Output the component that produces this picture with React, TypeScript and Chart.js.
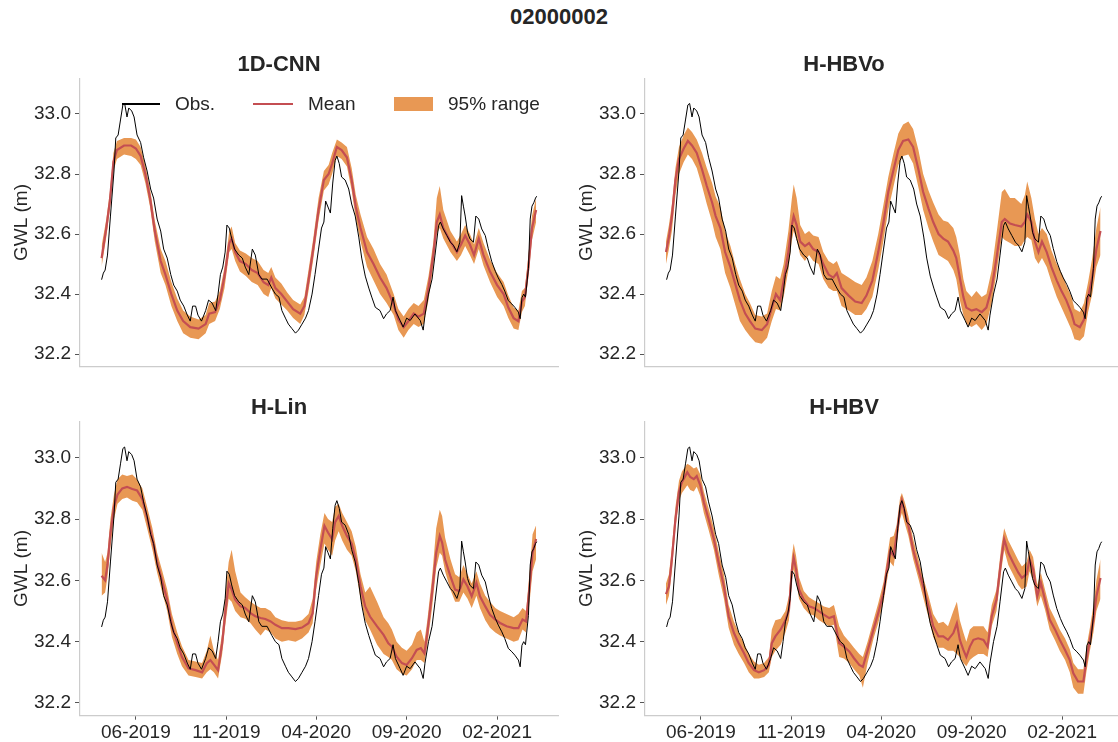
import React, { useEffect, useRef } from "react";
import { Chart, registerables } from "chart.js";
Chart.register(...registerables);

const FONT = "'Liberation Sans', Arial, sans-serif";
const TEXT = "#262626";
const RED = "#C44E52";
const ORANGE = "rgb(232,152,84)";
const SPINE = "#cccccc";
const TICKC = "#555555";

// x axis: days since 2019-06-01
const xTickDays = [0, 153, 305, 458, 611];
const xTickLabels = ["06-2019", "11-2019", "04-2020", "09-2020", "02-2021"];
const yTicks = [32.2, 32.4, 32.6, 32.8, 33.0];
const X_MIN = -94.5;
const X_MAX = 714;
const Y_MIN = 32.1585;
const Y_MAX = 33.1185;

const obsDays = [-58,-55,-52,-48,-43,-37,-34,-30,-26,-22,-19,-15,-12,-7,-3,2,8,13,19,25,30,36,42,47,53,59,64,70,75,81,87,92,96,101,105,111,118,123,129,135,139,143,147,151,154,158,162,167,174,180,185,191,197,202,208,213,222,230,236,242,247,253,258,264,270,275,281,287,292,298,303,309,314,318,321,325,329,333,337,340,344,348,354,360,365,371,377,382,388,394,399,405,413,419,424,430,435,439,447,452,458,464,472,481,486,489,495,501,506,512,515,520,526,532,537,543,548,551,554,557,561,565,571,575,580,585,591,596,602,608,613,619,624,630,636,641,647,650,653,656,659,664,667,670,673,676,678];
const obsVals = [32.448,32.47,32.48,32.53,32.66,32.81,32.92,32.93,32.98,33.03,33.035,32.99,33.02,33.01,32.99,32.93,32.905,32.856,32.81,32.75,32.72,32.65,32.61,32.55,32.52,32.465,32.43,32.41,32.38,32.36,32.33,32.31,32.36,32.36,32.33,32.31,32.345,32.38,32.37,32.345,32.40,32.465,32.49,32.54,32.63,32.62,32.585,32.55,32.53,32.52,32.49,32.465,32.55,32.53,32.465,32.45,32.45,32.42,32.40,32.39,32.345,32.32,32.30,32.285,32.27,32.28,32.30,32.32,32.345,32.40,32.465,32.55,32.62,32.64,32.71,32.69,32.67,32.77,32.845,32.86,32.835,32.79,32.78,32.75,32.70,32.66,32.59,32.52,32.46,32.42,32.39,32.356,32.345,32.318,32.334,32.345,32.39,32.345,32.312,32.29,32.32,32.312,32.334,32.312,32.28,32.33,32.40,32.45,32.53,32.628,32.64,32.617,32.595,32.573,32.563,32.541,32.573,32.728,32.693,32.66,32.606,32.584,32.573,32.66,32.65,32.617,32.595,32.552,32.508,32.476,32.454,32.432,32.41,32.378,32.367,32.356,32.34,32.318,32.388,32.40,32.39,32.486,32.65,32.693,32.704,32.72,32.726];

// 1D-CNN
const cnnDays = [-58,-50,-44,-38,-32,-20,-8,0,8,16,24,32,42,50,60,70,80,92,106,118,124,134,142,150,158,162,168,176,186,196,206,216,224,229,236,246,256,266,278,285,292,300,309,318,326,332,340,348,357,365,372,380,391,402,413,424,436,444,453,461,470,478,487,495,503,509,514,520,532,543,550,557,565,572,580,588,599,611,622,630,639,647,653,658,664,670,677];
const cnnMean = [32.52,32.62,32.71,32.84,32.88,32.895,32.895,32.885,32.86,32.80,32.72,32.61,32.51,32.465,32.40,32.345,32.31,32.29,32.285,32.30,32.335,32.34,32.38,32.46,32.57,32.585,32.54,32.51,32.50,32.48,32.47,32.44,32.43,32.455,32.42,32.40,32.375,32.35,32.335,32.36,32.445,32.55,32.68,32.78,32.80,32.835,32.89,32.88,32.855,32.78,32.69,32.62,32.54,32.50,32.455,32.42,32.365,32.315,32.29,32.31,32.335,32.325,32.335,32.42,32.53,32.64,32.665,32.62,32.575,32.54,32.565,32.595,32.565,32.53,32.585,32.53,32.475,32.43,32.40,32.355,32.32,32.31,32.375,32.39,32.49,32.62,32.68];
const cnnLo = [32.49,32.59,32.68,32.81,32.85,32.865,32.86,32.85,32.83,32.77,32.69,32.575,32.47,32.43,32.36,32.31,32.27,32.255,32.25,32.27,32.30,32.31,32.35,32.42,32.54,32.55,32.51,32.475,32.46,32.44,32.43,32.40,32.39,32.42,32.385,32.365,32.345,32.32,32.30,32.33,32.41,32.515,32.645,32.745,32.765,32.80,32.86,32.85,32.825,32.745,32.65,32.575,32.49,32.445,32.40,32.37,32.33,32.28,32.255,32.28,32.30,32.29,32.30,32.38,32.49,32.60,32.62,32.585,32.54,32.51,32.53,32.56,32.53,32.50,32.55,32.495,32.44,32.39,32.36,32.32,32.285,32.28,32.34,32.36,32.46,32.58,32.64];
const cnnHi = [32.56,32.65,32.74,32.87,32.91,32.92,32.92,32.915,32.89,32.83,32.75,32.645,32.55,32.51,32.44,32.385,32.345,32.325,32.315,32.33,32.37,32.375,32.41,32.49,32.61,32.625,32.57,32.545,32.535,32.52,32.51,32.48,32.47,32.49,32.455,32.435,32.405,32.38,32.365,32.39,32.48,32.585,32.72,32.81,32.83,32.87,32.915,32.905,32.89,32.82,32.73,32.665,32.59,32.55,32.50,32.465,32.40,32.35,32.325,32.35,32.37,32.36,32.38,32.46,32.57,32.72,32.76,32.68,32.61,32.575,32.60,32.63,32.60,32.565,32.62,32.57,32.515,32.47,32.44,32.395,32.355,32.345,32.41,32.42,32.53,32.66,32.72];

// H-HBVo
const hbvoDays = [-59,-54,-49,-43,-37,-29,-22,-15,-7,2,10,19,25,33,41,50,58,66,75,83,92,103,112,120,127,134,140,148,154,157,162,168,176,183,190,199,207,216,224,230,238,250,261,272,280,290,300,309,317,326,334,342,351,359,368,376,385,393,402,410,418,427,432,438,444,449,458,466,475,483,492,500,509,514,523,531,542,548,552,559,565,571,577,585,593,602,610,618,627,632,641,648,655,662,669,676];
const hbvoMean = [32.54,32.59,32.66,32.78,32.85,32.885,32.91,32.895,32.87,32.815,32.76,32.705,32.66,32.62,32.54,32.49,32.435,32.38,32.335,32.31,32.285,32.28,32.30,32.355,32.40,32.38,32.445,32.54,32.63,32.66,32.63,32.575,32.56,32.57,32.55,32.54,32.50,32.465,32.455,32.47,32.42,32.395,32.375,32.37,32.395,32.445,32.54,32.64,32.74,32.815,32.88,32.91,32.915,32.89,32.815,32.74,32.685,32.64,32.60,32.585,32.575,32.545,32.52,32.455,32.39,32.355,32.345,32.35,32.34,32.355,32.42,32.52,32.64,32.65,32.635,32.63,32.625,32.64,32.665,32.64,32.575,32.54,32.575,32.54,32.49,32.445,32.41,32.38,32.335,32.30,32.29,32.315,32.39,32.455,32.55,32.61];
const hbvoLo = [32.50,32.55,32.61,32.73,32.80,32.84,32.865,32.85,32.82,32.76,32.70,32.64,32.59,32.55,32.47,32.42,32.365,32.31,32.28,32.26,32.24,32.235,32.255,32.31,32.35,32.345,32.39,32.48,32.58,32.61,32.58,32.53,32.51,32.53,32.51,32.50,32.45,32.42,32.41,32.41,32.36,32.345,32.33,32.33,32.35,32.39,32.48,32.58,32.68,32.76,32.83,32.86,32.865,32.835,32.755,32.68,32.62,32.575,32.53,32.52,32.51,32.48,32.45,32.38,32.33,32.30,32.29,32.30,32.28,32.30,32.37,32.47,32.59,32.58,32.57,32.56,32.56,32.58,32.59,32.58,32.52,32.50,32.52,32.49,32.44,32.39,32.355,32.32,32.28,32.25,32.245,32.26,32.34,32.40,32.49,32.53];
const hbvoHi = [32.575,32.63,32.70,32.82,32.89,32.93,32.955,32.94,32.915,32.87,32.82,32.77,32.725,32.69,32.61,32.56,32.50,32.45,32.40,32.37,32.33,32.325,32.335,32.41,32.46,32.45,32.50,32.61,32.72,32.765,32.72,32.63,32.60,32.61,32.595,32.59,32.54,32.51,32.50,32.51,32.47,32.455,32.44,32.43,32.455,32.51,32.60,32.70,32.79,32.87,32.935,32.965,32.975,32.95,32.88,32.80,32.745,32.705,32.665,32.645,32.64,32.62,32.59,32.53,32.45,32.41,32.39,32.41,32.39,32.40,32.48,32.60,32.74,32.75,32.72,32.72,32.70,32.73,32.775,32.72,32.65,32.60,32.62,32.60,32.545,32.50,32.47,32.43,32.39,32.35,32.34,32.37,32.44,32.52,32.62,32.69];

// H-Lin
const linDays = [-58,-52,-48,-43,-37,-31,-23,-15,-6,2,11,19,28,36,44,53,61,70,78,89,101,112,120,126,132,139,146,151,157,162,168,177,185,194,202,211,219,228,236,247,258,270,281,292,299,305,312,319,325,332,337,343,349,357,365,372,380,388,396,408,419,427,433,441,450,458,467,475,482,488,493,501,508,514,518,523,532,540,547,554,561,568,576,582,591,599,608,616,627,639,647,654,660,666,671,677];
const linMean = [32.615,32.60,32.65,32.755,32.84,32.88,32.90,32.905,32.898,32.893,32.865,32.805,32.735,32.66,32.60,32.537,32.45,32.395,32.35,32.313,32.307,32.30,32.33,32.34,32.325,32.307,32.395,32.49,32.59,32.57,32.537,32.515,32.51,32.493,32.483,32.477,32.474,32.466,32.455,32.444,32.444,32.441,32.446,32.46,32.493,32.614,32.70,32.778,32.756,32.734,32.79,32.81,32.778,32.745,32.72,32.668,32.58,32.515,32.482,32.45,32.422,32.395,32.384,32.351,32.33,32.324,32.346,32.373,32.379,32.362,32.428,32.56,32.69,32.745,32.723,32.668,32.614,32.57,32.565,32.603,32.58,32.548,32.592,32.548,32.515,32.488,32.472,32.461,32.45,32.444,32.444,32.472,32.466,32.58,32.69,32.735];
const linLo = [32.55,32.56,32.61,32.71,32.80,32.85,32.865,32.87,32.86,32.855,32.83,32.77,32.70,32.625,32.565,32.50,32.415,32.36,32.32,32.29,32.285,32.28,32.30,32.31,32.30,32.28,32.36,32.45,32.54,32.53,32.50,32.48,32.475,32.46,32.44,32.42,32.44,32.43,32.41,32.40,32.405,32.40,32.41,32.43,32.46,32.57,32.65,32.72,32.70,32.68,32.73,32.76,32.73,32.70,32.68,32.63,32.54,32.47,32.44,32.39,32.36,32.35,32.34,32.31,32.295,32.29,32.31,32.34,32.34,32.33,32.39,32.51,32.64,32.69,32.68,32.63,32.57,32.53,32.53,32.56,32.54,32.51,32.55,32.51,32.47,32.445,32.43,32.42,32.41,32.40,32.405,32.44,32.43,32.53,32.63,32.67];
const linHi = [32.69,32.66,32.69,32.80,32.88,32.93,32.945,32.94,32.945,32.93,32.90,32.84,32.77,32.69,32.635,32.57,32.49,32.43,32.385,32.34,32.335,32.33,32.37,32.42,32.37,32.34,32.43,32.55,32.66,32.70,32.63,32.56,32.545,32.53,32.52,32.51,32.51,32.50,32.48,32.47,32.465,32.465,32.47,32.49,32.54,32.66,32.75,32.82,32.80,32.79,32.84,32.85,32.82,32.79,32.76,32.71,32.62,32.56,32.58,32.53,32.48,32.46,32.44,32.40,32.38,32.37,32.39,32.43,32.44,32.40,32.47,32.61,32.77,32.83,32.81,32.74,32.67,32.62,32.61,32.65,32.62,32.59,32.63,32.59,32.55,32.53,32.51,32.50,32.49,32.48,32.49,32.51,32.50,32.63,32.75,32.78];

// H-HBV
const hbvDays = [-59,-54,-49,-43,-37,-32,-23,-18,-12,-7,-1,5,13,22,30,39,47,56,64,73,81,90,98,107,115,120,126,135,143,149,154,157,161,166,174,183,191,200,208,217,225,234,242,251,259,268,274,282,292,300,309,314,320,326,331,337,340,345,351,359,368,376,385,393,402,410,418,427,433,438,444,449,455,461,469,478,485,492,500,508,513,520,528,537,543,551,556,562,569,575,582,590,599,607,616,624,630,638,647,652,658,664,669,676];
const hbvMean = [32.555,32.58,32.67,32.80,32.89,32.92,32.953,32.937,32.93,32.94,32.91,32.855,32.80,32.734,32.658,32.58,32.483,32.428,32.395,32.362,32.33,32.307,32.30,32.307,32.324,32.395,32.417,32.44,32.47,32.504,32.636,32.674,32.636,32.57,32.537,32.515,32.51,32.499,32.488,32.477,32.483,32.395,32.384,32.368,32.346,32.324,32.318,32.37,32.44,32.493,32.56,32.625,32.696,32.68,32.745,32.832,32.86,32.82,32.778,32.70,32.636,32.58,32.515,32.45,32.417,32.417,32.406,32.428,32.46,32.406,32.373,32.35,32.384,32.406,32.411,32.406,32.384,32.483,32.537,32.668,32.734,32.69,32.658,32.625,32.608,32.62,32.668,32.636,32.548,32.592,32.537,32.472,32.44,32.406,32.373,32.34,32.297,32.27,32.27,32.34,32.406,32.472,32.548,32.608];
const hbvLo = [32.52,32.55,32.63,32.77,32.86,32.885,32.91,32.895,32.89,32.905,32.875,32.82,32.765,32.70,32.62,32.54,32.445,32.39,32.36,32.33,32.30,32.28,32.28,32.285,32.30,32.35,32.37,32.39,32.43,32.47,32.60,32.635,32.60,32.54,32.51,32.49,32.485,32.47,32.46,32.45,32.455,32.35,32.345,32.33,32.31,32.29,32.25,32.33,32.41,32.46,32.53,32.59,32.66,32.645,32.71,32.80,32.82,32.785,32.745,32.67,32.605,32.545,32.48,32.415,32.38,32.38,32.37,32.37,32.36,32.35,32.33,32.32,32.34,32.35,32.36,32.36,32.35,32.45,32.50,32.63,32.70,32.65,32.62,32.585,32.57,32.58,32.63,32.60,32.515,32.55,32.505,32.44,32.405,32.37,32.34,32.30,32.25,32.23,32.23,32.30,32.37,32.43,32.50,32.54];
const hbvHi = [32.59,32.62,32.71,32.84,32.925,32.955,32.98,32.975,32.965,32.97,32.945,32.89,32.835,32.77,32.695,32.62,32.52,32.465,32.43,32.395,32.36,32.335,32.325,32.33,32.35,32.44,32.47,32.475,32.50,32.55,32.68,32.72,32.68,32.61,32.565,32.545,32.535,32.525,32.515,32.51,32.52,32.45,32.42,32.40,32.38,32.36,32.35,32.40,32.47,32.525,32.595,32.66,32.74,32.745,32.78,32.87,32.885,32.855,32.81,32.735,32.67,32.61,32.55,32.49,32.46,32.465,32.45,32.50,32.53,32.47,32.43,32.40,32.44,32.45,32.45,32.45,32.43,32.52,32.57,32.71,32.77,32.73,32.70,32.665,32.645,32.66,32.70,32.675,32.585,32.625,32.57,32.51,32.475,32.44,32.41,32.375,32.33,32.31,32.31,32.38,32.445,32.52,32.60,32.67];

const zip = (xs: number[], ys: number[]) => xs.map((x, i) => ({ x, y: ys[i] }));

type PanelProps = {
  title: string;
  days: number[];
  mean: number[];
  lo: number[];
  hi: number[];
  showX: boolean;
  left: number;
  top: number;
  height: number;
};

function Panel({ title, days, mean, lo, hi, showX, left, top, height }: PanelProps) {
  const ref = useRef<HTMLCanvasElement | null>(null);
  useEffect(() => {
    if (!ref.current) return;
    const font = { family: FONT, size: 19 };
    const chart = new Chart(ref.current, {
      type: "line",
      data: {
        datasets: [
          { label: "lo", data: zip(days, lo), borderWidth: 0, borderColor: "transparent", pointRadius: 0, fill: false, order: 3 },
          { label: "95% range", data: zip(days, hi), borderWidth: 0, borderColor: "transparent", backgroundColor: ORANGE, pointRadius: 0, fill: "-1", order: 2 },
          { label: "Mean", data: zip(days, mean), borderColor: RED, borderWidth: 2.2, pointRadius: 0, fill: false, order: 1 },
          { label: "Obs.", data: zip(obsDays, obsVals), borderColor: "#000000", borderWidth: 1, pointRadius: 0, fill: false, order: 0 },
        ],
      } as any,
      options: {
        animation: false,
        responsive: false,
        maintainAspectRatio: false,
        events: [],
        layout: { padding: { left: 0, right: 80, top: 0, bottom: 0 } },
        elements: { line: { tension: 0 }, point: { radius: 0 } },
        plugins: {
          legend: { display: false },
          tooltip: { enabled: false },
          title: {
            display: true,
            text: title,
            color: TEXT,
            font: { family: FONT, size: 22, weight: "bold" },
            padding: { top: 11, bottom: 0 },
          },
        },
        scales: {
          x: {
            type: "linear",
            min: X_MIN,
            max: X_MAX,
            afterBuildTicks: (axis: any) => {
              axis.ticks = xTickDays.map((v) => ({ value: v }));
            },
            afterFit: (axis: any) => {
              axis.height = showX ? 26.3 : 10;
            },
            ticks: {
              display: showX,
              autoSkip: false,
              maxRotation: 0,
              padding: 2,
              color: TEXT,
              font,
              callback: (v: any) => {
                const i = xTickDays.indexOf(Number(v));
                return i >= 0 ? xTickLabels[i] : "";
              },
            },
            grid: { display: showX, drawOnChartArea: false, drawTicks: true, tickLength: 4, color: TICKC, lineWidth: 1 },
            border: { display: true, color: SPINE, width: 1.2 },
          },
          y: {
            type: "linear",
            min: Y_MIN,
            max: Y_MAX,
            afterBuildTicks: (axis: any) => {
              axis.ticks = yTicks.map((v) => ({ value: v }));
            },
            afterFit: (axis: any) => {
              axis.width = 80;
            },
            ticks: {
              autoSkip: false,
              padding: 4,
              color: TEXT,
              font,
              callback: (v: any) => Number(v).toFixed(1),
            },
            grid: { display: true, drawOnChartArea: false, drawTicks: true, tickLength: 5, color: TICKC, lineWidth: 1 },
            border: { display: true, color: SPINE, width: 1.2 },
            title: { display: true, text: "GWL (m)", color: TEXT, font, padding: { top: 10.6, bottom: 0 } },
          },
        },
      } as any,
    });
    return () => chart.destroy();
  }, []);
  return (
    <canvas
      ref={ref}
      width={638}
      height={height}
      style={{ position: "absolute", left, top, width: 638, height }}
    />
  );
}

const textStyle: React.CSSProperties = {
  position: "absolute",
  fontFamily: FONT,
  fontSize: 19,
  lineHeight: "22px",
  color: TEXT,
  whiteSpace: "nowrap",
};

export default function App() {
  return (
    <div
      style={{
        position: "fixed",
        left: 0,
        top: 0,
        width: 1118,
        height: 742,
        overflow: "hidden",
        background: "#ffffff",
      }}
    >
      <div
        style={{
          position: "absolute",
          left: 0,
          width: 1118,
          top: 4,
          textAlign: "center",
          fontFamily: FONT,
          fontWeight: "bold",
          fontSize: 22,
          lineHeight: "26px",
          color: TEXT,
        }}
      >
        02000002
      </div>
      <Panel title="1D-CNN" days={cnnDays} mean={cnnMean} lo={cnnLo} hi={cnnHi} showX={false} left={0} top={41} height={341} />
      <Panel title="H-HBVo" days={hbvoDays} mean={hbvoMean} lo={hbvoLo} hi={hbvoHi} showX={false} left={565} top={41} height={341} />
      <Panel title="H-Lin" days={linDays} mean={linMean} lo={linLo} hi={linHi} showX={true} left={0} top={384} height={358} />
      <Panel title="H-HBV" days={hbvDays} mean={hbvMean} lo={hbvLo} hi={hbvHi} showX={true} left={565} top={384} height={358} />
      {/* legend for the first panel */}
      <div style={{ position: "absolute", left: 122, top: 103.4, width: 38, height: 1.3, background: "#000" }} />
      <div style={{ ...textStyle, left: 175, top: 93 }}>Obs.</div>
      <div style={{ position: "absolute", left: 253, top: 102.8, width: 40, height: 2.4, background: RED }} />
      <div style={{ ...textStyle, left: 308, top: 93 }}>Mean</div>
      <div style={{ position: "absolute", left: 394, top: 97, width: 39, height: 13.5, background: ORANGE }} />
      <div style={{ ...textStyle, left: 448, top: 93 }}>95% range</div>
    </div>
  );
}
